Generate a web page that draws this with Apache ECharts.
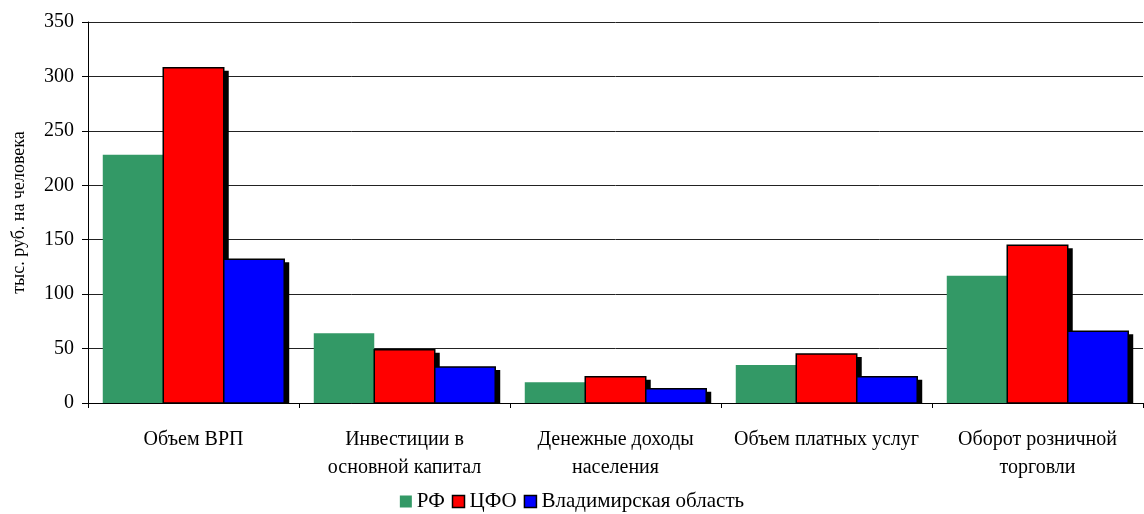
<!DOCTYPE html>
<html><head><meta charset="utf-8">
<script src="https://cdn.jsdelivr.net/npm/echarts@6/dist/echarts.min.js"></script>
<style>html,body{margin:0;padding:0;background:#fff}#c{width:1144px;height:514px}</style>
</head><body><div id="c"></div>
<script>
const categories = ["Объем ВРП", "Инвестиции в\nосновной капитал", "Денежные доходы\nнаселения", "Объем платных услуг", "Оборот розничной\nторговли"];
const seriesNames = ["РФ", "ЦФО", "Владимирская область"];
const rf = [228, 64, 19, 35, 117];
const cfo = [308, 49, 24, 45, 145];
const vlad = [132, 33, 13, 24, 66];
const yTicks = [0, 50, 100, 150, 200, 250, 300, 350];

const font = "Liberation Serif";
const colors = ['#339966', '#ff0000', '#0000ff'];
const chart = echarts.init(document.getElementById('c'));

function makeSeries(i, name, values, color, border) {
  return {
    name, type: 'custom',
    itemStyle: {color},
    encode: {x: 0, y: 1},
    data: values.map((v, ci) => [ci, v]),
    renderItem: function (params, api) {
      const ci = api.value(0), v = api.value(1);
      const p = api.coord([ci, v]);
      const p0 = api.coord([ci, 0]);
      const band = api.size([1, 0])[0];
      const w = band * 0.86 / 3;
      const x = p[0] - 1.5 * w + i * w;
      const h = p0[1] - p[1];
      const children = [];
      if (border) {
        children.push({type: 'rect', shape: {x: x + 5, y: p[1] + 3, width: w, height: h - 3}, style: {fill: '#000'}});
      }
      children.push({type: 'rect', shape: {x: x, y: p[1], width: w, height: h},
        style: border ? {fill: color, stroke: '#000', lineWidth: 1.5} : {fill: color}});
      return {type: 'group', children};
    }
  };
}

chart.setOption({
  animation: false,
  textStyle: {fontFamily: font},
  grid: {left: 88, right: 1, top: 22, bottom: 111, containLabel: false, outerBoundsMode: 'none'},
  legend: {
    top: 486, left: 'center', itemWidth: 12, itemHeight: 12, itemGap: 7,
    textStyle: {fontFamily: font, fontSize: 21, color: '#000'},
    data: [
      {name: seriesNames[0], icon: 'rect', itemStyle: {color: colors[0], borderWidth: 0}},
      {name: seriesNames[1], icon: 'rect', itemStyle: {color: colors[1], borderColor: '#000', borderWidth: 1.5}},
      {name: seriesNames[2], icon: 'rect', itemStyle: {color: colors[2], borderColor: '#000', borderWidth: 1.5}}
    ]
  },
  xAxis: {
    type: 'category', data: categories,
    axisLine: {lineStyle: {color: '#000', width: 1}},
    axisTick: {show: true, alignWithLabel: false, length: 5, lineStyle: {color: '#000'}},
    axisLabel: {fontFamily: font, fontSize: 20, color: '#000', margin: 23, lineHeight: 28, interval: 0}
  },
  yAxis: {
    type: 'value', min: yTicks[0], max: yTicks[yTicks.length - 1], interval: 50,
    name: 'тыс. руб. на человека', nameLocation: 'middle', nameGap: 60,
    nameTextStyle: {fontFamily: font, fontSize: 18, color: '#000'},
    axisLine: {show: true, lineStyle: {color: '#000'}},
    axisTick: {show: true, length: 6, lineStyle: {color: '#000'}},
    axisLabel: {fontFamily: font, fontSize: 20, color: '#000', margin: 14},
    splitLine: {show: true, lineStyle: {color: '#222', width: 1}}
  },
  series: [
    makeSeries(0, seriesNames[0], rf, colors[0], false),
    makeSeries(1, seriesNames[1], cfo, colors[1], true),
    makeSeries(2, seriesNames[2], vlad, colors[2], true)
  ]
});
</script></body></html>
